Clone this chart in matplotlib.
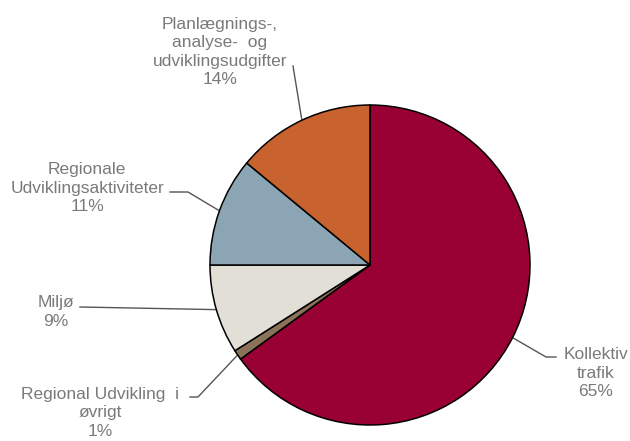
import numpy as np
import matplotlib
matplotlib.use("Agg")
import matplotlib.pyplot as plt

# Budget shares, clockwise from 12 o'clock
categories = ["Kollektiv\ntrafik", "Regional Udvikling  i\nøvrigt", "Miljø",
              "Regionale\nUdviklingsaktiviteter",
              "Planlægnings-,\nanalyse-  og\nudviklingsudgifter"]
shares = [65, 1, 9, 11, 14]
colors = ["#990033", "#8a7358", "#e2dfd6", "#8ca5b5", "#c8632f"]

W, H = 630, 441
fig = plt.figure(figsize=(W / 100, H / 100), dpi=100)
ax = fig.add_axes([0, 0, 1, 1])

cx, cy, r = 370, H - 265, 160
wedges, _ = ax.pie(shares, colors=colors, startangle=90, counterclock=False,
                   center=(cx, cy), radius=r, frame=True,
                   wedgeprops=dict(edgecolor="black", linewidth=1.1))
ax.set_xlim(0, W)
ax.set_ylim(0, H)
ax.set_aspect("equal")
ax.axis("off")

# label text centre (pixels from top-left) and leader elbow points
label_cfg = [
    dict(xy=(596, 373), path=[(556, 357), (546, 357)]),
    dict(xy=(100, 413), path=[(190, 397), (198, 397)]),
    dict(xy=(56, 312), path=[(80, 307)]),
    dict(xy=(87, 188), path=[(170, 192), (188, 192)]),
    dict(xy=(220, 52), path=[(293, 66)]),
]

for w, cat, val, cfg in zip(wedges, categories, shares, label_cfg):
    mid = np.deg2rad((w.theta1 + w.theta2) / 2)
    ex, ey = cx + r * np.cos(mid), cy + r * np.sin(mid)
    pts = [(x, H - y) for x, y in cfg["path"]] + [(ex, ey)]
    xs, ys = zip(*pts)
    ax.plot(xs, ys, color="#555555", lw=1.0, zorder=0.5)
    tx, ty = cfg["xy"]
    ax.text(tx, H - ty, f"{cat}\n{val}%", ha="center", va="center",
            fontsize=12.5, color="#7a7a7a", family="Liberation Sans",
            linespacing=1.29)

fig.savefig("out.png", dpi=100, facecolor="white")
